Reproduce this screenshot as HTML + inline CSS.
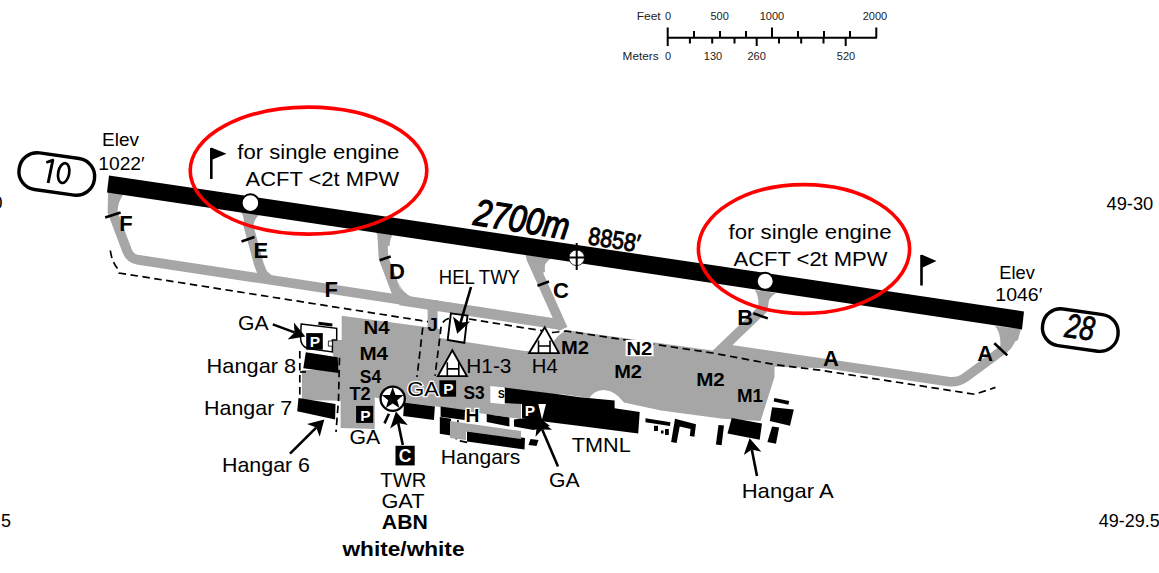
<!DOCTYPE html>
<html><head><meta charset="utf-8">
<style>
html,body{margin:0;padding:0;background:#fff;}
body{width:1159px;height:573px;overflow:hidden;font-family:"Liberation Sans",sans-serif;}
svg{display:block;}
text{font-family:"Liberation Sans",sans-serif;fill:#000;}
.b{font-weight:bold;font-size:19.2px;}
.sc{font-size:11px;fill:#222;}
.l{font-size:21px;}
.n{font-size:20px;}
.e{font-size:18.5px;}
.t{font-weight:bold;font-size:22px;}
text.w{fill:#fff;font-weight:bold;}
</style></head><body>
<svg width="1159" height="573" viewBox="0 0 1159 573">
<rect width="1159" height="573" fill="#fff"/>
<!-- SCALE -->
<g id="scale" stroke="#000" stroke-width="2" fill="none">
<path d="M667.7 37.8H877"/>
<path d="M667.7 27.6V46M772 27.6V37.8M876.3 27.6V37.8"/>
<path d="M694 31V37.8M720 31V37.8M746 31V37.8M798 31V37.8M824 31V37.8M850 31V37.8"/>
<path d="M689.9 37.8V43.4M712.2 37.8V43.4M734.5 37.8V43.4M756.7 37.8V46M779 37.8V43.4M801.2 37.8V43.4M823.5 37.8V43.4M845.7 37.8V46"/>
</g>
<g>
<text x="636.7" y="20" class="sc" textLength="24" lengthAdjust="spacingAndGlyphs">Feet</text><text x="665" y="20" class="sc">0</text>
<text x="719.6" y="20" class="sc" text-anchor="middle">500</text>
<text x="772" y="20" class="sc" text-anchor="middle">1000</text>
<text x="875" y="20" class="sc" text-anchor="middle">2000</text>
<text x="622.6" y="60" class="sc" textLength="36" lengthAdjust="spacingAndGlyphs">Meters</text><text x="665" y="60" class="sc">0</text>
<text x="713" y="60" class="sc" text-anchor="middle">130</text>
<text x="756.6" y="60" class="sc" text-anchor="middle">260</text>
<text x="846" y="60" class="sc" text-anchor="middle">520</text>
</g>

<!-- TAXIWAYS -->
<g id="taxi" stroke="#a6a6a6" stroke-width="9.7" fill="none" stroke-linejoin="round" stroke-linecap="butt">
<!-- F west + parallel -->
<path d="M113 190L112.5 212L126.8 250Q129.5 258 137 259.6L404 300.3L560 324"/>
<path d="M400 300.3L560 324.8" stroke-width="10"/>
<!-- E -->
<path d="M250 208L248.2 225L258.8 264L265 280"/>
<!-- D -->
<path d="M382 230L383.5 258L396 291L403 301"/>
<!-- C -->
<path d="M530.5 255L531.5 259L563 329"/>
<!-- J connector -->
<path d="M432.6 300V335" stroke-width="10"/>
<!-- B -->
<path d="M765 288L763 309L712 358"/>
<!-- A -->
<path d="M726 349L948 381.5Q958 383 966 377L1004 349Q1012 343 1013 328" stroke-width="9.4"/>
</g>
<g id="flares" fill="#a6a6a6">
<path d="M398.5 281Q401 293 414 298L404 302Z"/>
<path d="M261.3 262.5Q265 272 276 277.8L266 281.5Z"/>
<path d="M108 190L125 192Q118 200 117 214L108 214Z"/>
<path d="M239 209L262 213Q254 217 253 228L244 227Q245 216 239 209Z"/>
<path d="M373 229L394 232Q390 238 389.5 246L380.5 245Q380 236 373 229Z"/>
<path d="M524 254L552 258Q543 262 545 272L536 276Q534 262 524 254Z"/>
<path d="M755 290L776 293Q768 298 767.5 306L758.5 305Q759 297 755 290Z"/>
<path d="M995 326L1021 329L1018 340L1000 350Q1002 334 995 326Z"/>
</g>
<!-- APRON -->
<g id="apron" fill="#a6a6a6">
<path d="M760 355L826 365L826 368.3L774 366.8L770 366Z"/>
<!-- west -->
<path d="M341.7 315.7L425.7 327L440 329L440 338L525 351L545 352L558 336L566 330L723 352L774.5 359L774.5 377L760.6 421L723 418.8L661 410.5L624 402.5L618 396Q611 390 603 390Q594 390.5 589.4 398L560 394L521 404L521 419L492 415L465 411L440 407L405 402.5L374.7 397.4L374.7 429L340.6 428L340.6 400.8L302 400L302 370L339.5 370L332.7 354L332.7 341.8L341.7 341.8Z"/>
</g>

<!-- RUNWAY -->
<path d="M109 175.4L1024 311.4L1022 329.4L107 192.4Z" fill="#000"/>

<!-- runway dots -->
<circle cx="250.4" cy="203.1" r="8.8" fill="#fff" stroke="#000" stroke-width="2"/>
<circle cx="765.2" cy="281.2" r="8.5" fill="#fff" stroke="#000" stroke-width="2"/>
<!-- centre cross -->
<g>
<circle cx="576.7" cy="257.8" r="7.8" fill="#fff" stroke="#000" stroke-width="0.8"/>
<path d="M576.7 243V270M568 257.6H585.5" stroke="#000" stroke-width="2" fill="none"/>
</g>

<!-- red ellipses -->
<ellipse cx="308.5" cy="170.6" rx="118.3" ry="63.5" fill="none" stroke="#f00" stroke-width="3.6"/>
<ellipse cx="804" cy="249" rx="105.6" ry="64.4" fill="none" stroke="#f00" stroke-width="3.6"/>

<!-- flags -->
<path d="M211.3 148V179" stroke="#000" stroke-width="2.6"/>
<path d="M211.3 147.5L226.5 153.7L211.3 160Z" fill="#000"/>
<path d="M921.5 255V285.5" stroke="#000" stroke-width="2.6"/>
<path d="M921.5 254.5L936.5 261L921.5 268Z" fill="#000"/>

<!-- red ellipse text -->
<text class="n" x="237.3" y="159.3" textLength="162" lengthAdjust="spacingAndGlyphs">for single engine</text>
<text class="n" x="245.6" y="186.4" textLength="153.6" lengthAdjust="spacingAndGlyphs">ACFT &lt;2t MPW</text>
<text class="n" x="728.5" y="239" textLength="163" lengthAdjust="spacingAndGlyphs">for single engine</text>
<text class="n" x="733.5" y="266" textLength="154" lengthAdjust="spacingAndGlyphs">ACFT &lt;2t MPW</text>

<!-- runway number pills -->
<g transform="translate(56.8 174) rotate(8)">
<rect x="-38" y="-18.5" width="76" height="37" rx="18" ry="18" fill="#fff" stroke="#000" stroke-width="3.4"/>

</g>
<g transform="translate(1080.3 330.1) rotate(8)">
<rect x="-38" y="-18.5" width="76" height="37" rx="18" ry="18" fill="#fff" stroke="#000" stroke-width="3.4"/>
<text x="-15.5" y="8.8" font-size="34" font-style="italic" textLength="29.5" lengthAdjust="spacingAndGlyphs" stroke="#000" stroke-width="0.8">28</text>
</g>

<g fill="none" stroke="#000" stroke-width="2.9">
<path d="M46.3 162.5L52.8 160.2L48.1 183" stroke-linejoin="round"/>
<ellipse cx="63.7" cy="173.1" rx="5.5" ry="10" transform="rotate(10.6 63.7 173.1)" stroke-width="2.7"/>
</g>
<!-- Elev -->
<text class="e" x="102" y="146.4" textLength="37" lengthAdjust="spacingAndGlyphs">Elev</text>
<text class="e" x="98.2" y="169.6" textLength="46.5" lengthAdjust="spacingAndGlyphs">1022′</text>
<text class="e" x="999.3" y="279" textLength="35.5" lengthAdjust="spacingAndGlyphs">Elev</text>
<text class="e" x="995.3" y="301.3" textLength="47" lengthAdjust="spacingAndGlyphs">1046′</text>

<!-- runway length -->
<g transform="translate(472.5 224.6) rotate(9)">
<text x="0" y="0" font-size="37.5" font-style="italic" textLength="96" lengthAdjust="spacingAndGlyphs" stroke="#000" stroke-width="1.3">2700m</text>
</g>
<g transform="translate(587.3 244) rotate(9)">
<text x="0" y="0" font-size="25" textLength="52" lengthAdjust="spacingAndGlyphs" stroke="#000" stroke-width="0.9">8858′</text>
</g>

<!-- lat labels -->
<text x="1106.5" y="209.7" font-size="18" textLength="46.8" lengthAdjust="spacingAndGlyphs">49-30</text>
<text x="1098.7" y="526.7" font-size="18">49-29.5</text>
<text x="-7.6" y="208.9" font-size="18">0</text>
<text x="1" y="526.8" font-size="18">5</text>

<!-- DASHED BORDER -->
<g id="dash" fill="none" stroke="#000" stroke-width="1.7" stroke-dasharray="7.5 4.5">
<path d="M110.3 250.5Q112 262 117.5 268.5L119 273L420 320.4L428 321.7"/>
<path d="M469 319L553 332.5L566 331L712.5 353L776 364.8L820 370.2L974.8 394.3L995.5 387.4"/>
<path d="M422.8 327.5L417 377"/>
<path d="M449 318.5Q441 320 440.5 332L435 375.8"/>
<path d="M299.8 351V401"/>
<path d="M339.5 357.7L338.5 400L336 432"/>
<path d="M306 372L300 372"/>
<path d="M458 420L456 440L470 443"/>
</g>

<!-- BUILDINGS -->
<g id="bld" fill="#000">
<path d="M305.8 352.3L337.6 357.2L338.8 373L303.3 368.3Z"/>
<path d="M298.5 398L335.5 404L335.1 419.5L297.2 411.2Z"/>
<path d="M404.1 402.6L434.9 406.5L433.9 419.9L403.2 416.1Z"/>


<!-- H hangar row -->
<path d="M440.6 406.5L465 410L464.6 420L440.6 416.8Z"/>
<path d="M439.8 417L451 418.7L450.8 435.5L439.8 433.8Z"/>
<path d="M486.7 413.9L509.4 417.5L509.4 426.5L486.7 422Z"/>
<path d="M467 430L525 438L524.5 449.5L467 441.5Z"/>
<path d="M530.5 439L538.5 440L536.5 446L528.5 445Z"/>
<!-- terminal -->
<path d="M504.5 387.6L560 394.5L580 397.3L614.6 400.6L614.6 408.3L639.7 412L638.2 433.5L580 426.1L544 421.5L522 418L522 404L504.5 403Z"/>
<path d="M514 419.5L537.7 416.6L550 425.9L533.5 430L514 426.5Z"/>
<!-- east small -->
<path d="M645.5 418.3L670.4 422.2L670 426L645.5 422.2Z"/>
<path d="M654 425.8H658V431H654ZM661 430.5H663.5V433.5H661ZM665 429H668.8V435H665Z"/>
<path d="M675 418.8L696 424.3L694.4 436.7L689.8 435.9L690.6 428.9L679.7 426.6L676.6 442.9L671.1 442.1Z"/>
<path d="M718.5 425L724 425.5L721.6 445.2L715.9 444.4Z"/>
<path d="M731.7 418L762 423.5L759.7 439.8L727.5 433.6Z"/>
<path d="M774.4 397.9L789.2 401L788.4 404.8L773.6 401.4Z"/>
<path d="M772.1 407.2L793.8 409.5L790 425.8L769.8 421.1Z"/>
<path d="M772.1 426.6L779.1 427.4L776 443.7L767.4 442.1Z"/>
</g>
<!-- gray bits among hangars -->
<g fill="#a6a6a6">
<path d="M492 405L521 408L521 418.5L492 415Z"/>
<path d="M450 421L521 431L521 439L466 431.5L466 440L450 438Z"/>
</g>
<!-- white bits -->
<g fill="#fff">
<path d="M490.3 386L504.7 387.5L504.7 404.3L490.3 402.8Z"/>

</g>

<text x="498" y="397.9" font-size="10" font-weight="bold">S</text>
<!-- P boxes -->
<g id="pboxes">
<rect x="356.1" y="405.9" width="17.1" height="17" fill="#000"/>
<rect x="439.4" y="380.3" width="16.7" height="16.4" fill="#000"/>
<rect x="523.8" y="403.5" width="13" height="14" fill="#000"/>
<rect x="395.5" y="445.8" width="19.2" height="19.6" fill="#000"/>
<g fill="#fff" font-weight="bold">
<text x="365.3" y="420.6" font-size="15.5" text-anchor="middle" class="w">P</text>
<text x="448.3" y="394.3" font-size="15.5" text-anchor="middle" class="w">P</text>
<text x="530" y="415.8" font-size="15.5" text-anchor="middle" class="w">P</text>
<text x="405.1" y="462" font-size="17.5" text-anchor="middle" class="w">C</text>
</g>
<path d="M538.3 404L546 404L542 419.5Z" fill="#fff"/>
</g>

<!-- GA structure upper-left -->
<path d="M332.4 340H342V352H332.4Z" fill="#a6a6a6"/>
<path d="M301.2 324L336.7 328.3L336.7 340L332.4 340L332.4 351.9L308 348.5Q300.5 346.5 300.5 337Z" fill="#fff" stroke="#000" stroke-width="1.5"/>
<path d="M318.4 323.2L332.4 324.9" stroke="#000" stroke-width="3"/>
<rect x="306.2" y="333.1" width="16.6" height="16.6" fill="#000"/>
<text x="315" y="347.3" font-size="15.5" text-anchor="middle" class="w">P</text>
<path d="M328.4 341H332.4V346.2H328.4Z" fill="#fff" stroke="#000" stroke-width="0.8"/>

<!-- HEL box -->
<path d="M450.9 313.4L467.5 315.5L464.3 342.8L447.7 340Z" fill="#fff" stroke="#000" stroke-width="1.9"/>

<!-- H triangles -->
<g stroke="#000" stroke-width="1.8" fill="#fff" stroke-linejoin="miter">
<path d="M452.3 350.2L437.8 376.2H467Z"/>
<path d="M544.7 327.2L529 353.2H559Z"/>
</g>
<g stroke="#000" stroke-width="1.6" fill="none">
<path d="M447.3 362.2V376M458.8 362.2V376M447.3 368.9H458.8"/>
<path d="M538.5 340.5V353M550 340.5V353M538.5 346H550"/>
</g>

<!-- star beacon -->
<circle cx="392.7" cy="398.7" r="12.1" fill="#fff" stroke="#000" stroke-width="2.3"/>
<path fill="#000" d="M392.7 387.1L395.5 394.9L403.7 395.1L397.2 400.2L399.5 408.1L392.7 403.4L385.9 408.1L388.2 400.2L381.7 395.1L389.9 394.9Z"/>
<path d="M388.9 413.8L384.5 423.4" stroke="#000" stroke-width="2.6" fill="none"/>

<!-- ARROWS -->
<g id="arrows">
<path d="M272.8 324.4L294.5 332.4" stroke="#000" stroke-width="2.6" fill="none"/><path d="M305.3 336.4L287.6 339.5L294.5 332.4L293.9 322.6Z" fill="#000"/>
<path d="M290.0 453.7L316.2 427.6" stroke="#000" stroke-width="2.6" fill="none"/><path d="M324.3 419.5L319.7 436.8L316.2 427.6L307.0 424.1Z" fill="#000"/>
<path d="M402.8 445.0L398.2 422.9" stroke="#000" stroke-width="2.6" fill="none"/><path d="M395.9 411.6L407.8 425.0L398.2 422.9L390.2 428.6Z" fill="#000"/>
<path d="M471.0 287.0L460.5 322.8" stroke="#000" stroke-width="2.6" fill="none"/><path d="M457.2 333.8L453.0 316.4L460.5 322.8L470.2 321.5Z" fill="#000"/>
<path d="M558.0 466.5L542.2 429.6" stroke="#000" stroke-width="2.6" fill="none"/><path d="M537.7 419.0L552.1 429.7L542.2 429.6L535.5 436.8Z" fill="#000"/>
<path d="M757.0 475.9L751.8 449.5" stroke="#000" stroke-width="2.6" fill="none"/><path d="M749.6 438.2L761.4 451.7L751.8 449.5L743.8 455.1Z" fill="#000"/>
</g>

<!-- TICKS -->
<g stroke="#000" stroke-width="2.6" fill="none">
<path d="M105.2 217.5L120.6 212.5"/>
<path d="M241.5 241.5L254.5 237"/>
<path d="M379.7 260.2L390.7 256.5"/>
<path d="M537.5 285.7L549 281.5"/>
<path d="M753.4 313.2L767.8 318.4"/>
<path d="M994.3 343.2L1007.3 355.4"/>
</g>

<!-- BOLD LABELS -->
<g class="b">
<text class="t" x="119.3" y="230.5">F</text>
<text class="t" x="253.4" y="257.6">E</text>
<text class="t" x="389.1" y="279.1">D</text>
<text class="t" x="324.5" y="296.8">F</text>
<text class="t" x="552.9" y="297.8">C</text>
<text class="b" x="427.2" y="330.5" font-size="22">J</text>
<text class="t" x="737.2" y="324.7">B</text>
<text class="t" x="823" y="365.6">A</text>
<text class="t" x="977.2" y="360.8">A</text>
<text class="b" x="363.6" y="334.1" textLength="26" lengthAdjust="spacingAndGlyphs">N4</text>
<text class="b" x="359.4" y="359.8" textLength="28.6" lengthAdjust="spacingAndGlyphs">M4</text>
<text class="b" x="359.8" y="383.2" textLength="21.4" lengthAdjust="spacingAndGlyphs">S4</text>
<text class="b" x="349.4" y="400" textLength="21.2" lengthAdjust="spacingAndGlyphs">T2</text>
<text class="b" x="463.4" y="398.6" font-size="20" textLength="21.2" lengthAdjust="spacingAndGlyphs">S3</text>
<text class="b" x="465.5" y="421.8" font-size="20" style="paint-order:stroke" stroke="#fff" stroke-width="2.4">H</text>
<text class="b" x="561" y="353.5" textLength="28" lengthAdjust="spacingAndGlyphs">M2</text>
<rect x="625.6" y="339.9" width="27.9" height="16.3" fill="#fff"/>
<text class="b" x="626.4" y="355.2" textLength="25.8" lengthAdjust="spacingAndGlyphs">N2</text>
<text class="b" x="614.2" y="378" textLength="27.8" lengthAdjust="spacingAndGlyphs">M2</text>
<text class="b" x="696.2" y="385.8" textLength="28.6" lengthAdjust="spacingAndGlyphs">M2</text>
<text class="b" x="737" y="401.8" textLength="26" lengthAdjust="spacingAndGlyphs">M1</text>
</g>

<!-- REGULAR LABELS -->
<g class="l">
<text class="l" x="238" y="330" textLength="30.6" lengthAdjust="spacingAndGlyphs">GA</text>
<text class="l" x="206.6" y="373" textLength="89.6" lengthAdjust="spacingAndGlyphs">Hangar 8</text>
<text class="l" x="204" y="415.4" textLength="88.2" lengthAdjust="spacingAndGlyphs">Hangar 7</text>
<text class="l" x="222" y="471.6" textLength="88" lengthAdjust="spacingAndGlyphs">Hangar 6</text>
<text class="l" x="349.6" y="443.5" textLength="30.7" lengthAdjust="spacingAndGlyphs">GA</text>
<text class="l" x="380.3" y="486.6" textLength="46" lengthAdjust="spacingAndGlyphs">TWR</text>
<text class="l" x="381.5" y="507.8" textLength="43" lengthAdjust="spacingAndGlyphs">GAT</text>
<text class="l" x="381.8" y="528.9" textLength="46" lengthAdjust="spacingAndGlyphs" font-weight="bold">ABN</text>
<text class="l" x="342.5" y="556" textLength="122" lengthAdjust="spacingAndGlyphs" font-weight="bold" font-size="19">white/white</text>
<text class="l" x="407.2" y="395.7" font-size="22" textLength="31.5" lengthAdjust="spacingAndGlyphs" style="paint-order:stroke" stroke="#fff" stroke-width="2.5">GA</text>
<text class="l" x="440.8" y="463.8" textLength="79.6" lengthAdjust="spacingAndGlyphs">Hangars</text>
<text class="l" x="571.8" y="451.6" font-size="21.7" textLength="59" lengthAdjust="spacingAndGlyphs">TMNL</text>
<text class="l" x="549" y="487" textLength="30.6" lengthAdjust="spacingAndGlyphs">GA</text>
<text class="l" x="466.3" y="372.7" font-size="22" textLength="45.1" lengthAdjust="spacingAndGlyphs">H1-3</text>
<text class="l" x="531.8" y="372.7" font-size="22" textLength="25.9" lengthAdjust="spacingAndGlyphs">H4</text>
<text class="l" x="438.8" y="283.8" textLength="81.1" lengthAdjust="spacingAndGlyphs" font-size="19.3">HEL TWY</text>
<text class="l" x="741.7" y="498.4" textLength="92" lengthAdjust="spacingAndGlyphs">Hangar A</text>
</g>

</svg>
</body></html>
